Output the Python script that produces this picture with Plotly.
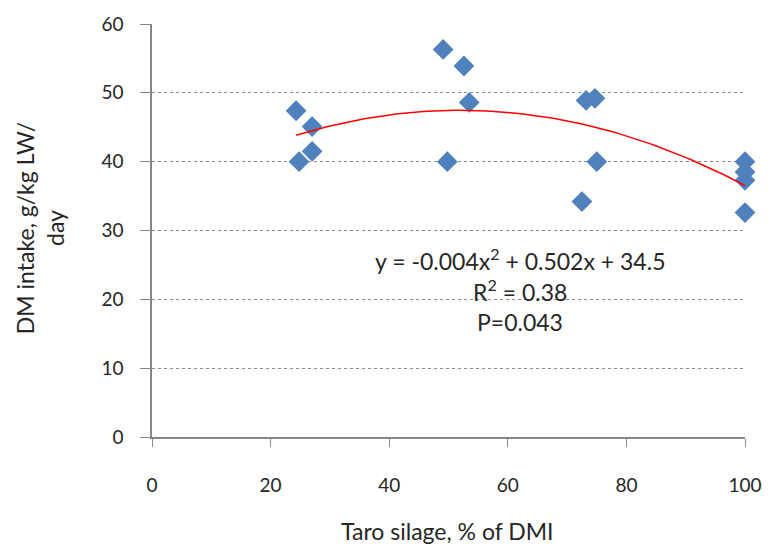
import numpy as np
import plotly.graph_objects as go

taro_pct = [24.3, 24.8, 27.0, 27.0, 49.1, 49.8, 52.6, 53.5, 72.5, 73.2, 74.7, 75.0, 100, 100, 100, 100]
dm_intake = [47.4, 40.0, 45.1, 41.5, 56.3, 40.0, 53.9, 48.6, 34.2, 48.9, 49.2, 40.0, 40.0, 38.5, 37.3, 32.6]

x_ticks = [0, 20, 40, 60, 80, 100]
y_ticks = [0, 10, 20, 30, 40, 50, 60]

eq_lines = ["y = -0.004x<sup>2</sup> + 0.502x + 34.5", "R<sup>2</sup> = 0.38", "P=0.043"]

coef = np.polyfit(taro_pct, dm_intake, 2)
xs = np.linspace(min(taro_pct), max(taro_pct), 100)
ys = np.polyval(coef, xs)

font_name = "Lato"
txt_col = "#262626"

L, R, T, B = 152, 751, 22, 437
W, H = R - L, B - T


def px(x):
    return (x - L) / W


def py(y):
    return (B - y) / H


fig = go.Figure()
fig.add_trace(go.Scatter(x=taro_pct, y=dm_intake, mode="markers", cliponaxis=False,
                         marker=dict(symbol="diamond", size=16, color="#4F81BD",
                                     line=dict(width=0)),
                         showlegend=False))
fig.add_trace(go.Scatter(x=xs, y=ys, mode="lines", cliponaxis=False,
                         line=dict(color="#FF0000", width=1.5), showlegend=False))

fig.update_layout(
    width=774, height=547,
    margin=dict(l=L, r=774 - R, t=T, b=547 - B),
    plot_bgcolor="white", paper_bgcolor="white",
    font=dict(family=font_name, size=19, color=txt_col),
    xaxis=dict(range=[0, 100], tickvals=x_ticks, showgrid=False, zeroline=False,
               showline=True, linecolor="#868686", linewidth=1.5,
               ticks="outside", ticklen=8, tickcolor="#868686",
               ticklabelstandoff=22),
    yaxis=dict(range=[0, 60], tickvals=y_ticks, showgrid=True, gridcolor="#8C8C8C",
               griddash="dot", gridwidth=1, zeroline=False,
               showline=True, linecolor="#868686", linewidth=1.5,
               ticks="outside", ticklen=10, tickcolor="#868686",
               ticklabelstandoff=13),
)

fig.add_annotation(xref="paper", yref="paper", x=px(450), y=py(531),
                   text="Taro silage, % of DMI", showarrow=False,
                   xanchor="center", yanchor="middle", font=dict(size=23))
fig.add_annotation(xref="paper", yref="paper", x=px(39), y=py(227),
                   text="DM intake, g/kg LW/<br>day", showarrow=False, textangle=-90,
                   xanchor="center", yanchor="middle", font=dict(size=23))
for line, yc in zip(eq_lines, [259, 290, 321]):
    fig.add_annotation(xref="paper", yref="paper", x=px(524), y=py(yc),
                       text=line, showarrow=False, xanchor="center", yanchor="middle",
                       font=dict(size=23))

fig.write_html("out.html")
